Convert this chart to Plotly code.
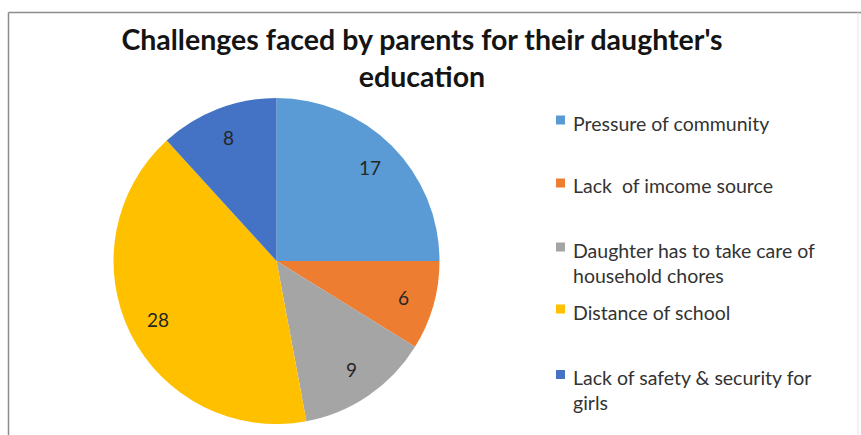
import math
import plotly.graph_objects as go

# Survey responses: challenges parents face in educating their daughters
categories = [
    "Pressure of community",
    "Lack  of imcome source",
    "Daughter has to take care of<br>household chores",
    "Distance of school",
    "Lack of safety & security for<br>girls",
]
values = [17, 6, 9, 28, 8]
colors = ["#5B9BD5", "#ED7D31", "#A5A5A5", "#FFC000", "#4472C4"]

W, H = 861, 435
FONT = "Lato"

# Pie placement (pixels): square domain so the radius fills it
PIE_X = (113, 440)
PIE_Y = (98, 424)          # top, bottom
cx = (PIE_X[0] + PIE_X[1]) / 2
cy = (PIE_Y[0] + PIE_Y[1]) / 2
radius = min(PIE_X[1] - PIE_X[0], PIE_Y[1] - PIE_Y[0]) / 2

fig = go.Figure(
    go.Pie(
        labels=categories,
        values=values,
        sort=False,
        direction="clockwise",
        rotation=0,
        marker=dict(colors=colors, line=dict(width=0)),
        textinfo="none",
        domain=dict(x=[PIE_X[0] / W, PIE_X[1] / W],
                    y=[1 - PIE_Y[1] / H, 1 - PIE_Y[0] / H]),
        showlegend=False,
        hoverinfo="label+value",
    )
)

annotations = []

# Value labels placed along each slice's bisector, toward the rim
total = sum(values)
cum = 0
for v in values:
    theta = 2 * math.pi * (cum + v / 2) / total   # clockwise from 12 o'clock
    cum += v
    r = 0.81 * radius
    px = cx + r * math.sin(theta)
    py = cy - r * math.cos(theta)
    annotations.append(dict(
        text=str(v), xref="paper", yref="paper",
        x=px / W, y=1 - py / H, xanchor="center", yanchor="middle",
        showarrow=False,
        font=dict(family=FONT, size=19, color="#262626"),
    ))

# Manual legend: coloured square + wrapped label for each category
legend_y = [123, 186, 262.5, 312, 390]
shapes = []
for name, col, yc in zip(categories, colors, legend_y):
    nlines = name.count("<br>") + 1
    first_line = yc - (nlines - 1) * 12.5
    sq = first_line - 3
    shapes.append(dict(
        type="rect", xref="paper", yref="paper",
        x0=556 / W, x1=565 / W,
        y0=1 - (sq + 4.5) / H, y1=1 - (sq - 4.5) / H,
        fillcolor=col, line=dict(width=0),
    ))
    annotations.append(dict(
        text=name, xref="paper", yref="paper",
        x=571 / W, y=1 - yc / H, xanchor="left", yanchor="middle",
        align="left", showarrow=False,
        font=dict(family=FONT, size=19.5, color="#333333"),
    ))

# Chart frame (top and left edges, faint right edge)
frame = dict(color="#8C8C8C", width=1.5)
shapes += [
    dict(type="line", xref="paper", yref="paper", x0=8.5 / W, x1=1,
         y0=1 - 12.5 / H, y1=1 - 12.5 / H, line=frame),
    dict(type="line", xref="paper", yref="paper", x0=8.5 / W, x1=8.5 / W,
         y0=0, y1=1 - 12.5 / H, line=frame),
    dict(type="line", xref="paper", yref="paper", x0=858 / W, x1=858 / W,
         y0=0, y1=1 - 12.5 / H, line=dict(color="#E6E6E6", width=1)),
]

fig.update_layout(
    width=W, height=H,
    margin=dict(l=0, r=0, t=0, b=0),
    paper_bgcolor="white", plot_bgcolor="white",
    title=dict(
        text="Challenges faced by parents for their daughter's<br>education",
        x=422 / W, xanchor="center", y=1 - 50 / H, yanchor="middle",
        font=dict(family=FONT, size=28.5, color="#141414", weight="bold"),
    ),
    shapes=shapes,
    annotations=annotations,
)

fig.write_html("out.html")
